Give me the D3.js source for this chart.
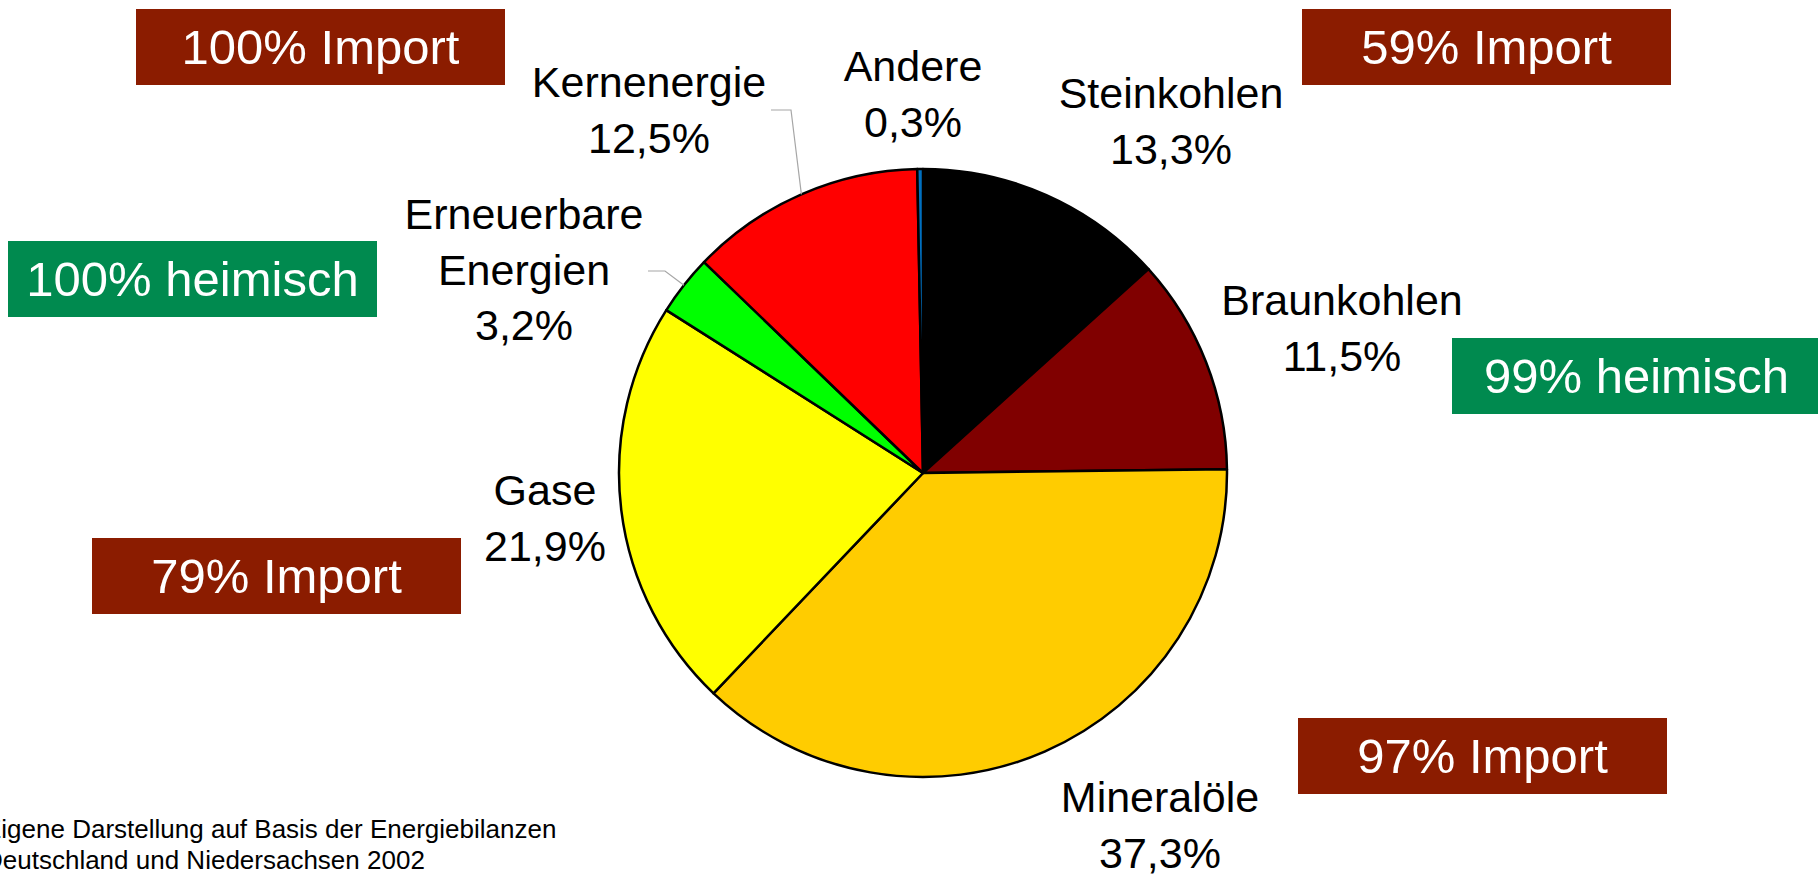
<!DOCTYPE html>
<html>
<head>
<meta charset="utf-8">
<script src="https://cdn.jsdelivr.net/npm/d3@7"></script>
<style>
  html, body { margin: 0; padding: 0; background: #fff; overflow: hidden; }
  svg { display: block; font-family: "Liberation Sans", Arial, sans-serif; }
</style>
</head>
<body>
<div id="chart"></div>
<script>
// Primärenergieverbrauch nach Energieträgern (Anteile in %)
const categories = ['Steinkohlen', 'Braunkohlen', 'Mineralöle', 'Gase', 'Erneuerbare Energien', 'Kernenergie', 'Andere'];
const shares     = [13.3, 11.5, 37.3, 21.9, 3.2, 12.5, 0.3];
const colors     = ['#000000', '#800000', '#FFCC00', '#FFFF00', '#00FF00', '#FF0000', '#0070C0'];

// Herkunft-Kästen
const boxTexts  = ['100% Import', '59% Import', '100% heimisch', '99% heimisch', '79% Import', '97% Import'];
const boxKinds  = ['import', 'import', 'heimisch', 'heimisch', 'import', 'import'];

const sourceLines = ['Eigene Darstellung auf Basis der Energiebilanzen', 'Deutschland und Niedersachsen 2002'];

const W = 1818, H = 875;
const cx = 923, cy = 473, r = 304;

// label placement (center x, first baseline) in the same order as categories
const labelAt = [
  {x: 1171, y: 108, lines: ['Steinkohlen']},
  {x: 1342, y: 315, lines: ['Braunkohlen']},
  {x: 1160, y: 812, lines: ['Mineralöle']},
  {x: 545,  y: 505, lines: ['Gase']},
  {x: 524,  y: 229, lines: ['Erneuerbare', 'Energien'], lead: {x0: 648, x1: 665, y: 271}},
  {x: 649,  y: 97,  lines: ['Kernenergie'], lead: {x0: 771, x1: 791, y: 110}},
  {x: 913,  y: 81,  lines: ['Andere']}
];
const boxAt = [
  {x: 136, y: 9}, {x: 1302, y: 9}, {x: 8, y: 241},
  {x: 1452, y: 338}, {x: 92, y: 538}, {x: 1298, y: 718}
];
const boxW = 369, boxH = 76;
const boxFill = {import: '#8B1C00', heimisch: '#008A4F'};

const fmt = v => d3.format('.1f')(v).replace('.', ',') + '%';

const svg = d3.select('#chart').append('svg')
  .attr('width', W).attr('height', H);

const pie = d3.pie().sort(null).value(d => d);
const arcs = pie(shares);
const arc = d3.arc().innerRadius(0).outerRadius(r);
const edge = d3.arc().innerRadius(r).outerRadius(r);

const g = svg.append('g').attr('transform', `translate(${cx},${cy})`);

g.selectAll('path')
  .data(arcs)
  .enter().append('path')
    .attr('d', arc)
    .attr('fill', (d, i) => colors[i])
    .attr('stroke', '#000')
    .attr('stroke-width', 2.5)
    .attr('stroke-linejoin', 'round');

// leader lines
arcs.forEach((d, i) => {
  const L = labelAt[i].lead;
  if (!L) return;
  const [ex, ey] = edge.centroid(d);
  svg.append('polyline')
    .attr('points', `${L.x0},${L.y} ${L.x1},${L.y} ${cx + ex},${cy + ey}`)
    .attr('fill', 'none')
    .attr('stroke', '#A6A6A6')
    .attr('stroke-width', 1.2);
});

// data labels
categories.forEach((c, i) => {
  const p = labelAt[i];
  const t = svg.append('text')
    .attr('text-anchor', 'middle')
    .attr('font-size', 43)
    .attr('fill', '#000');
  p.lines.concat([fmt(shares[i])]).forEach((s, k) => {
    t.append('tspan').attr('x', p.x).attr('y', p.y + k * 55.5).text(s);
  });
});

// boxes
boxTexts.forEach((s, i) => {
  const b = boxAt[i];
  svg.append('rect')
    .attr('x', b.x).attr('y', b.y)
    .attr('width', boxW).attr('height', boxH)
    .attr('fill', boxFill[boxKinds[i]]);
  svg.append('text')
    .attr('x', b.x + boxW / 2).attr('y', b.y + boxH / 2 + 17)
    .attr('text-anchor', 'middle')
    .attr('font-size', 49)
    .attr('fill', '#fff')
    .text(s);
});

// source (cut at the left edge, as in the original slide)
sourceLines.forEach((s, k) => {
  svg.append('text')
    .attr('x', -16).attr('y', 838 + k * 31)
    .attr('font-size', 26)
    .attr('fill', '#000')
    .text(s);
});
</script>
</body>
</html>
